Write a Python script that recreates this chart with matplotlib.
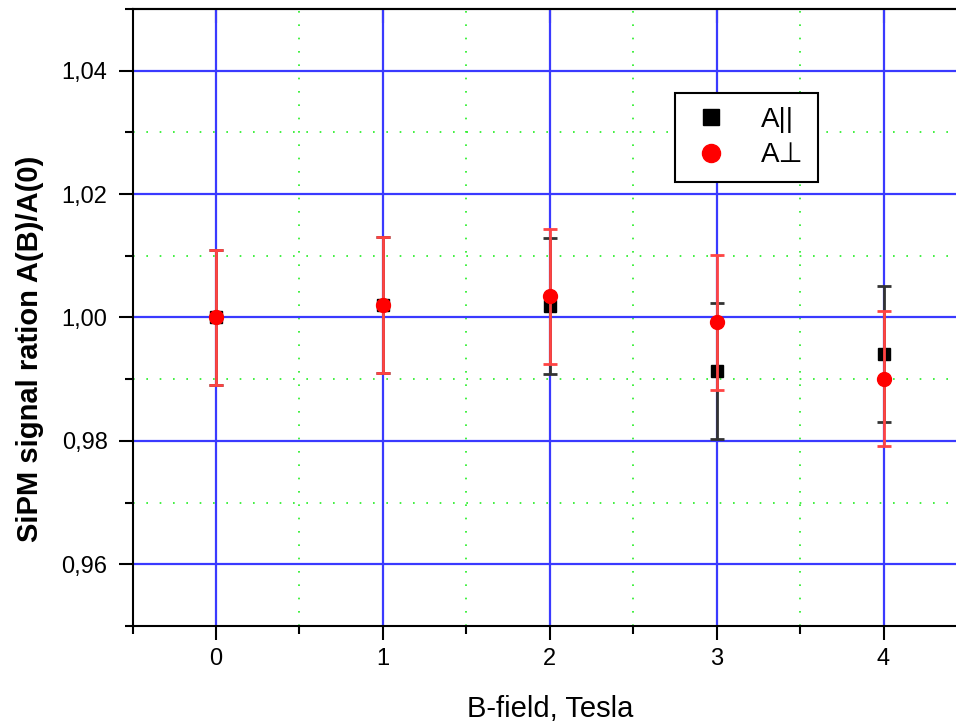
import numpy as np
import matplotlib
matplotlib.use("Agg")
import matplotlib.pyplot as plt
from matplotlib.ticker import MultipleLocator, FuncFormatter
from matplotlib.lines import Line2D

plt.rcParams['font.family'] = ['Liberation Sans', 'DejaVu Sans']

# B-field points (Tesla) and normalised SiPM amplitudes
field = [0, 1, 2, 3, 4]
a_par = [1.000, 1.002, 1.0018, 0.9913, 0.9941]
a_perp = [1.000, 1.002, 1.0034, 0.9992, 0.9901]
err_par = [0.011, 0.011, 0.011, 0.011, 0.011]
err_perp = [0.011, 0.011, 0.011, 0.011, 0.011]

fig = plt.figure(figsize=(9.56, 7.23), dpi=100)
ax = fig.add_axes([0.1387, 0.1342, 0.8728, 0.8534])

ax.errorbar(field, a_par, yerr=err_par, fmt='s', color='black', ms=8,
            ecolor='#333333', elinewidth=2, capsize=5, capthick=2, zorder=3)
ax.errorbar(field, a_perp, yerr=err_perp, fmt='o', color='red', ms=10,
            ecolor='#ff4444', elinewidth=2, capsize=5, capthick=2, zorder=4)

ax.set_xlim(-0.5, 4.5)
ax.set_ylim(0.95, 1.05)
ax.xaxis.set_major_locator(MultipleLocator(1))
ax.xaxis.set_minor_locator(MultipleLocator(0.5))
ax.yaxis.set_major_locator(MultipleLocator(0.02))
ax.yaxis.set_minor_locator(MultipleLocator(0.01))
ax.yaxis.set_major_formatter(FuncFormatter(lambda v, p: f"{v:.2f}".replace('.', ',')))

ax.grid(which='major', color='#3a3aff', lw=1.6, ls='-', zorder=0)
ax.grid(which='minor', color='#22ee22', lw=1.2, ls=(0, (1, 7)), zorder=0)
ax.set_axisbelow(True)

ax.tick_params(which='major', direction='out', length=10, width=1.5, labelsize=17, pad=6)
ax.tick_params(axis='y', which='major', pad=8)
ax.tick_params(which='minor', direction='out', length=5.5, width=1.5)
for s in ax.spines.values():
    s.set_linewidth(1.5)

# inward ticks along the top edge
top = ax.secondary_xaxis('top')
top.xaxis.set_major_locator(MultipleLocator(1))
top.tick_params(direction='in', length=10, width=1.5, labeltop=False)
top.xaxis.set_minor_locator(MultipleLocator(0.5))
top.tick_params(which='minor', length=0)
top.spines['top'].set_linewidth(1.5)

ax.set_xlabel('B-field, Tesla', fontsize=21, labelpad=18)
ax.set_ylabel('SiPM signal ration A(B)/A(0)', fontsize=21, fontweight='bold')
ax.yaxis.set_label_coords(-0.106, 0.45)

handles = [Line2D([], [], ls='none', marker='s', color='black', ms=11),
           Line2D([], [], ls='none', marker='o', color='red', ms=13)]
leg = ax.legend(handles, ['A||', 'A\u22a5'], loc='upper left',
                bbox_to_anchor=(0.650, 0.864), borderaxespad=0,
                fancybox=False, edgecolor='black', framealpha=1, fontsize=20,
                handlelength=1.6, handletextpad=1.0,
                borderpad=0.5, labelspacing=0.35)
leg.get_frame().set_linewidth(1.5)

fig.savefig('out.png', dpi=100)
